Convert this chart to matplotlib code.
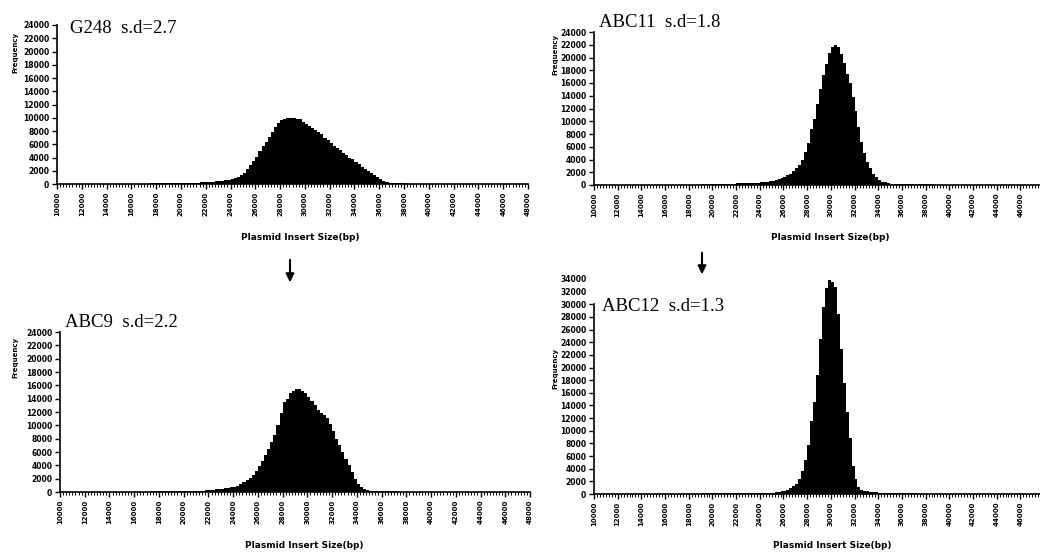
import numpy as np
import matplotlib.pyplot as plt
from matplotlib.ticker import MultipleLocator

W, H = 1040, 553
bin_w = 250
x_ticks = list(range(10000, 48001, 2000))

# histogram counts, 250 bp bins, starting at *_start
g248_start = 17500
g248_counts = [100] * 16 + [250, 300, 300, 350, 350, 400, 450, 500, 550, 650,
    800, 900, 1100, 1300, 1700, 2200, 2900, 3400, 4100, 5000, 5800, 6400, 7100,
    7900, 8600, 9200, 9600, 9800, 9900, 10000, 9950, 9850, 9750, 9400, 9000,
    8700, 8400, 8100, 7800, 7500, 7000, 6600, 6200, 5800, 5400, 5100, 4700,
    4400, 4000, 3700, 3300, 3000, 2600, 2200, 1900, 1600, 1300, 1000, 800, 500,
    300, 150, 100, 100, 100, 80, 80, 50, 50]

abc11_start = 19000
abc11_counts = [100] * 5 + [150, 150, 150, 200, 200, 200, 200, 250, 250, 300,
    300, 300, 300, 350, 350, 400, 450, 500, 550, 650, 750, 900, 1050, 1200,
    1500, 1800, 2200, 2700, 3200, 4000, 5200, 6600, 8800, 10300, 12700, 15000,
    17200, 19000, 20700, 21600, 22000, 21600, 20500, 19100, 17400, 16000,
    13800, 11600, 9100, 6800, 5000, 3600, 2600, 1800, 1300, 800, 500, 400,
    300] + [200] * 8 + [150] * 7

abc9_start = 17250
abc9_counts = [100] * 16 + [150, 200, 250, 300, 350, 400, 450, 500, 550, 650,
    700, 800, 950, 1200, 1500, 1800, 2100, 2600, 3200, 3900, 4700, 5500, 6400,
    7500, 8600, 10000, 11800, 13500, 14000, 14800, 15100, 15400, 15500, 15200,
    14800, 14300, 13700, 13100, 12300, 11800, 11500, 11100, 10200, 9100, 8000,
    7000, 6000, 5000, 4000, 3000, 2000, 1200, 700, 400, 300, 200, 150, 150,
    150, 100, 100, 100, 100, 80, 50]

abc12_start = 19000
abc12_counts = [100] * 16 + [120, 150, 150, 150, 150, 150, 150, 200, 200, 250,
    300, 450, 550, 700, 900, 1200, 1600, 2300, 3700, 5300, 7800, 11500, 14500,
    18800, 24500, 29500, 32500, 33800, 33500, 32700, 28500, 23000, 17500,
    13000, 8800, 4500, 2300, 1100, 700, 500, 400, 350, 300, 250, 200, 200,
    200, 150, 150, 150, 150, 150, 150, 100, 100, 100, 100]

panels = [
    # title, start, counts, y label max, axis max, rect px (l, r, top, bottom),
    # title pos, ylabel pos, xlabel centre, last x label shown
    ("G248  s.d=2.7", g248_start, g248_counts, 24000, 24000, (57, 528, 25, 184), (70, 33), (15, 52), (300, 237), 48000),
    ("ABC11  s.d=1.8", abc11_start, abc11_counts, 24000, 24000, (594, 1044, 32, 185), (599, 27), (555, 54), (830, 237), 46000),
    ("ABC9  s.d=2.2", abc9_start, abc9_counts, 24000, 24000, (60, 530, 332, 492), (65, 327), (15, 357), (304, 546), 48000),
    ("ABC12  s.d=1.3", abc12_start, abc12_counts, 34000, 30000, (594, 1044, 279, 494), (602, 311), (555, 368), (832, 546), 46000),
]

fig = plt.figure(figsize=(W / 100, H / 100), dpi=100)

for title, start, counts, ymax, ytop, (l, r, t, b), (tx, ty), (lx, ly), (xx, xy), xlast in panels:
    ax = fig.add_axes([l / W, 1 - b / H, (r - l) / W, (b - t) / H])
    edges = start + bin_w * np.arange(len(counts) + 1)
    ax.stairs(counts, edges, fill=True, color='black', linewidth=0, clip_on=False)
    ax.set_xlim(x_ticks[0], x_ticks[-1])
    ax.set_ylim(0, ymax)
    ax.set_xticks(x_ticks)
    ax.set_xticklabels([str(v) if v <= xlast else '' for v in x_ticks],
                       rotation=90, fontsize=5, fontweight='bold')
    ax.xaxis.set_minor_locator(MultipleLocator(250))
    yt = list(range(0, ymax + 1, 2000))
    ax.set_yticks(yt)
    ax.set_yticklabels([str(v) for v in yt], fontsize=5.5, fontweight='bold')
    for s in ['top', 'right']:
        ax.spines[s].set_visible(False)
    for s in ['left', 'bottom']:
        ax.spines[s].set_linewidth(1.2)
    ax.spines['left'].set_bounds(0, ytop)
    ax.tick_params(axis='both', which='major', length=3.5, width=1.0, pad=2)
    ax.tick_params(axis='x', which='minor', length=1.8, width=0.7)
    for v, tk in zip(yt, ax.yaxis.get_major_ticks()):
        if v > ytop:
            tk.tick1line.set_visible(False)
    ax.patch.set_alpha(0)
    fig.text(tx / W, 1 - ty / H, title, fontsize=13.5, family='Liberation Serif',
             ha='left', va='baseline')
    fig.text(lx / W, 1 - ly / H, 'Frequency', fontsize=5, fontweight='bold',
             rotation=90, ha='center', va='center')
    fig.text(xx / W, 1 - xy / H, 'Plasmid Insert Size(bp)',
             fontsize=6.5, fontweight='bold', ha='center', va='center')

# arrows between the rows
for ax0, ay0, ay1 in [(290, 257, 285), (702, 250, 277)]:
    fig.add_artist(plt.Annotation('', xy=(ax0 / W, 1 - ay1 / H), xytext=(ax0 / W, 1 - ay0 / H),
                                  xycoords='figure fraction',
                                  arrowprops=dict(arrowstyle='-|>', color='black', lw=1.5,
                                                  mutation_scale=12)))

fig.savefig('out.png', dpi=100)
